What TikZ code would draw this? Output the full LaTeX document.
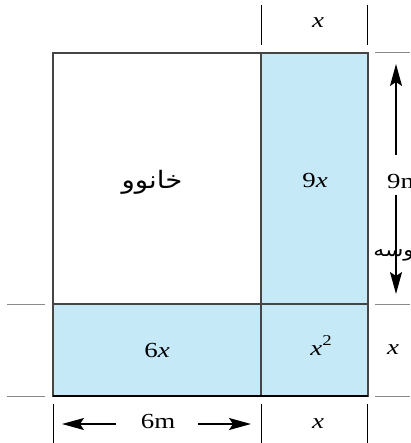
\documentclass[tikz,border=0pt]{standalone}
\usepackage{fontspec}
\setmainfont[FakeStretch=1.25]{Liberation Serif}
\newfontfamily\arabicfont[Script=Arabic,FakeStretch=1.15]{DejaVu Sans}
\TeXXeTstate=1
\usetikzlibrary{arrows.meta}
\definecolor{lblue}{HTML}{C6E9F8}
\definecolor{edge}{HTML}{454545}
\definecolor{ext}{HTML}{8A8A8A}
\tikzset{
  tick/.style={draw=black, line width=0.8pt},
  extline/.style={draw=ext, line width=1pt},
  lbl/.style={font=\fontsize{21.5}{23}\selectfont, inner sep=0pt},
  arr/.style={line width=1.5pt, -{Stealth[length=22pt,width=12pt,inset=4pt]}}
}
\begin{document}
\begin{tikzpicture}[x=1pt,y=-1pt]
\useasboundingbox (0,0) rectangle (410,443);
% cells
\fill[lblue] (261,53) rectangle (368,396);
\fill[lblue] (53,304) rectangle (261,396);
\draw[draw=edge, line width=1.3pt] (53,53) rectangle (368,396);
\draw[draw=edge, line width=1.3pt] (261,53) -- (261,396);
\draw[draw=edge, line width=1.3pt] (53,304) -- (368,304);
\draw[draw=black, line width=1.8pt] (53,396) -- (368,396);
% extension lines
\coordinate (e1a) at (375,53); \coordinate (e1b) at (410,53);
\coordinate (e2a) at (7,304); \coordinate (e2b) at (45,304);
\coordinate (e3a) at (375,304); \coordinate (e3b) at (410,304);
\coordinate (e4a) at (7,396); \coordinate (e4b) at (45,396);
\coordinate (e5a) at (375,396); \coordinate (e5b) at (410,396);
\draw[extline] (e1a) -- (e1b);
\draw[extline] (e2a) -- (e2b);
\draw[extline] (e3a) -- (e3b);
\draw[extline] (e4a) -- (e4b);
\draw[extline] (e5a) -- (e5b);
% ticks top
\coordinate (t1a) at (261,5); \coordinate (t1b) at (261,45);
\coordinate (t2a) at (367,5); \coordinate (t2b) at (367,45);
\draw[tick] (t1a) -- (t1b);
\draw[tick] (t2a) -- (t2b);
% ticks bottom
\coordinate (b1a) at (53,404); \coordinate (b1b) at (53,443);
\coordinate (b2a) at (261,404); \coordinate (b2b) at (261,443);
\coordinate (b3a) at (367,404); \coordinate (b3b) at (367,443);
\draw[tick] (b1a) -- (b1b);
\draw[tick] (b2a) -- (b2b);
\draw[tick] (b3a) -- (b3b);
% labels
\node[lbl] (house) at (152,182) {\arabicfont\fontsize{24}{26}\selectfont\beginR خانوو\endR};
\node[lbl] (nine) at (315,180) {9\textit{x}};
\node[lbl] (six) at (157,350) {6\textit{x}};
\node[lbl] (sq) at (321,346) {\textit{x}\raisebox{10pt}{\fontsize{15}{16}\selectfont 2}};
\node[lbl] (topx) at (318,23) {\textit{x}};
\node[lbl] (botx) at (318,424) {\textit{x}};
\node[lbl] (rightx) at (393,350) {\textit{x}};
\node[lbl] (sixm) at (158,421) {6m};
\node[lbl, anchor=west] (ninem) at (387,181) {9m};
\node[lbl, anchor=east] (wsa) at (421,255) {\arabicfont\fontsize{19}{22}\selectfont\beginR پوسه\endR};
% arrows
\coordinate (la1) at (116,424); \coordinate (la2) at (62,424);
\coordinate (ra1) at (198,424); \coordinate (ra2) at (251,424);
\coordinate (ua1) at (396,155); \coordinate (ua2) at (396,64);
\coordinate (da1) at (396,195); \coordinate (da2) at (396,294);
\draw[arr] (la1) -- (la2);
\draw[arr] (ra1) -- (ra2);
\draw[arr] (ua1) -- (ua2);
\draw[arr] (da1) -- (da2);
\end{tikzpicture}
\end{document}
